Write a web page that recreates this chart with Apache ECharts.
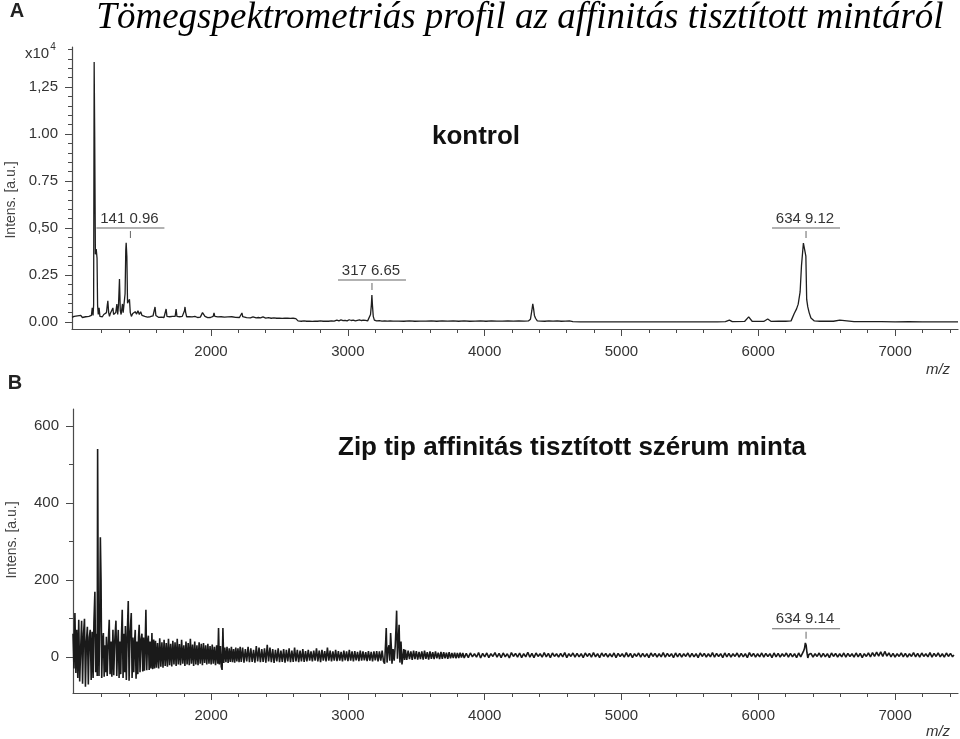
<!DOCTYPE html>
<html><head><meta charset="utf-8">
<script src="https://cdn.jsdelivr.net/npm/echarts@6/dist/echarts.min.js"></script>
<style>html,body{margin:0;padding:0;background:#fff}#c{width:960px;height:739px}</style>
</head><body><div id="c"></div>
<script>
// ---------- data ----------
// Panel A: control spectrum, [m/z, intensity a.u.]
const spectrumA = [
[984,250],[1000,300],[1012,220],[1024,330],[1036,260],[1048,350],[1060,240],[1072,300],[1084,280],[1096,360],[1108,300],[1118,400],[1126,350],[1132,750],[1138,350],[1142,900],[1146,13830],[1150,9800],[1155,3600],[1161,3880],[1167,3400],[1171,900],[1176,400],[1182,750],[1188,300],[1196,350],[1206,280],[1216,400],[1226,300],[1236,500],[1242,900],[1246,1130],[1252,500],[1258,300],[1264,450],[1270,380],[1276,520],[1283,750],[1288,400],[1296,300],[1304,500],[1312,960],[1318,400],[1324,900],[1331,2290],[1337,600],[1343,400],[1348,700],[1353,960],[1358,500],[1366,600],[1372,1500],[1377,3800],[1380,4220],[1385,3500],[1390,1000],[1398,900],[1404,1210],[1410,500],[1418,300],[1428,450],[1436,380],[1446,550],[1456,420],[1466,600],[1476,400],[1486,550],[1496,350],[1506,420],[1516,300],[1526,280],[1536,260],[1546,300],[1556,280],[1566,250],[1576,320],[1584,400],[1591,800],[1597,350],[1606,280],[1616,250],[1626,300],[1636,260],[1646,280],[1656,240],[1666,300],[1672,690],[1678,300],[1688,250],[1698,280],[1708,240],[1718,300],[1728,260],[1738,300],[1745,690],[1751,300],[1760,260],[1770,280],[1780,240],[1790,300],[1800,320],[1806,600],[1810,800],[1815,500],[1822,280],[1832,250],[1842,280],[1852,240],[1862,270],[1872,250],[1882,300],[1892,260],[1902,240],[1912,280],[1922,260],[1932,350],[1938,500],[1942,585],[1948,450],[1956,300],[1966,250],[1976,230],[1986,260],[1996,240],[2006,280],[2016,300],[2022,480],[2028,300],[2038,250],[2050,270],[2062,240],[2074,280],[2086,300],[2098,260],[2110,250],[2124,270],[2138,240],[2152,280],[2166,300],[2180,250],[2194,260],[2208,240],[2220,300],[2226,480],[2232,280],[2246,240],[2260,230],[2274,260],[2288,220],[2300,240],[2307,270],[2314,230],[2330,220],[2346,240],[2362,220],[2374,230],[2380,270],[2386,220],[2400,210],[2420,230],[2440,200],[2460,220],[2480,200],[2500,210],[2520,190],[2540,210],[2560,200],[2580,190],[2600,200],[2620,180],[2636,60],[2660,40],[2680,60],[2700,40],[2720,50],[2740,30],[2760,50],[2780,40],[2800,60],[2820,40],[2840,50],[2860,40],[2880,60],[2900,50],[2920,100],[2935,60],[2950,110],[2965,70],[2980,90],[2995,60],[3010,120],[3025,80],[3040,100],[3055,60],[3070,90],[3085,110],[3100,80],[3115,100],[3130,90],[3145,60],[3158,120],[3166,400],[3172,900],[3176,1440],[3180,900],[3186,300],[3194,100],[3210,60],[3230,70],[3250,50],[3270,60],[3290,50],[3310,60],[3330,45],[3370,50],[3410,40],[3450,55],[3490,40],[3530,50],[3570,45],[3610,60],[3650,40],[3690,55],[3730,45],[3770,60],[3810,40],[3850,55],[3890,40],[3930,50],[3970,55],[4010,40],[4050,60],[4090,45],[4130,50],[4170,60],[4210,45],[4250,55],[4290,50],[4320,60],[4335,150],[4345,600],[4352,960],[4358,700],[4364,350],[4372,200],[4385,60],[4410,50],[4440,40],[4470,60],[4500,45],[4530,55],[4560,40],[4590,50],[4620,55],[4645,20],[4700,10],[4800,5],[4900,10],[5000,5],[5100,10],[5200,5],[5300,10],[5400,5],[5500,8],[5600,5],[5700,10],[5760,20],[5789,100],[5810,20],[5900,30],[5930,270],[5955,40],[6040,30],[6069,160],[6095,30],[6150,40],[6200,40],[6240,60],[6263,450],[6280,700],[6292,950],[6306,1600],[6316,3000],[6330,4200],[6340,4250],[6348,3500],[6354,1200],[6362,800],[6372,500],[6385,210],[6410,60],[6450,40],[6500,50],[6550,40],[6596,100],[6610,40],[6700,20],[6800,15],[6900,15],[7000,10],[7100,15],[7200,10],[7300,10],[7400,10],[7460,10]
];
// Panel B: Zip tip purified serum spectrum, [m/z, intensity a.u.]
const spectrumB = [
[990,60],[997,-30],[1004,114],[1011,-42],[1018,70],[1025,-55],[1032,96],[1039,-64],[1046,20],[1053,94],[1060,-70],[1067,60],[1074,99],[1081,-78],[1088,40],[1095,78],[1102,-72],[1109,50],[1116,70],[1123,-60],[1130,65],[1137,-55],[1143,90],[1150,169],[1156,-40],[1163,60],[1167,-50],[1170,540],[1175,90],[1180,-50],[1185,80],[1190,311],[1195,200],[1200,-55],[1206,40],[1212,62],[1218,-52],[1224,30],[1230,-40],[1234,52],[1240,-50],[1247,30],[1255,96],[1261,-45],[1268,40],[1274,-52],[1282,70],[1288,-48],[1295,40],[1304,94],[1310,-50],[1316,30],[1321,70],[1327,-55],[1333,40],[1339,-45],[1344,50],[1350,122],[1356,-55],[1362,60],[1368,-40],[1373,80],[1380,-60],[1386,50],[1394,145],[1400,-62],[1407,60],[1416,114],[1422,-55],[1428,50],[1434,-40],[1440,40],[1445,70],[1451,-57],[1458,40],[1464,-45],[1469,50],[1474,83],[1480,-40],[1487,45],[1494,60],[1500,-38],[1506,50],[1512,-36],[1518,40],[1523,122],[1529,-35],[1535,40],[1541,55],[1547,-34],[1553,40],[1560,-30],[1567,62],[1573,-32],[1580,45],[1586,-30],[1593,42],
[1600,-28],[1608,36],[1616,-30],[1624,48],[1632,-26],[1640,38],[1648,-28],[1656,44],[1664,-24],[1672,36],[1680,-26],[1688,47],[1696,-22],[1704,34],[1712,-25],[1720,42],[1728,-20],[1736,38],[1744,-24],[1752,47],[1760,-20],[1768,33],[1776,-22],[1784,44],[1792,-18],[1800,30],[1808,-24],[1816,40],[1824,-20],[1832,36],[1840,-22],[1848,47],[1856,-18],[1864,32],[1872,-24],[1880,40],[1888,-20],[1896,30],[1904,-22],[1912,38],[1920,-18],[1928,34],[1936,-22],[1944,36],[1952,-16],[1960,30],[1968,-20],[1976,34],[1984,-18],[1992,28],[2000,-20],[2008,32],[2016,-18],[2024,26],[2032,-22],[2040,30],[2048,-18],[2054,75],[2060,-20],[2068,28],[2074,-25],[2080,-34],[2086,75],[2092,-16],[2100,24],[2108,-14],[2116,26],[2124,-16],[2132,22],[2140,-13],[2148,26],[2156,-14],[2164,20],[2172,-15],[2180,24],[2188,-12],[2196,22],[2204,-14],[2212,26],[2220,-13],
[2230,24],[2240,-15],[2250,20],[2260,-12],[2270,26],[2280,-14],[2290,22],[2300,-13],[2310,18],[2320,-15],[2330,28],[2340,-12],[2350,24],[2360,-14],[2370,20],[2380,-13],[2390,22],[2400,-15],[2410,31],[2420,-12],[2430,24],[2440,-14],[2450,20],[2460,-16],[2470,18],[2480,-12],[2490,22],[2500,-14],[2510,16],[2520,-13],[2530,20],[2540,-15],[2550,18],[2560,-12],[2570,22],[2580,-14],[2590,16],[2600,-13],[2610,24],[2620,-12],[2630,18],[2640,-14],[2650,16],[2660,-12],[2670,20],[2680,-13],[2690,15],[2700,-12],[2710,18],[2720,-10],[2730,14],[2740,-12],[2750,16],[2760,-10],[2770,22],[2780,-12],[2790,16],[2800,-14],[2810,18],[2820,-10],[2830,15],[2840,-12],[2850,24],[2860,-10],[2870,16],[2880,-12],[2890,14],[2900,-10],[2910,18],[2920,-11],[2930,15],[2940,-10],[2950,13],[2960,-12],[2970,16],[2980,-9],[2990,14],[3000,-11],[3010,18],[3020,-10],[3030,14],[3040,-12],[3050,15],[3060,-9],[3070,13],[3080,-11],[3090,16],[3100,-10],[3110,14],[3120,-9],[3130,12],[3140,-11],[3150,15],[3160,-10],[3170,13],[3180,-12],[3190,14],[3200,-9],[3210,15],[3220,-12],[3230,14],[3240,-10],[3250,16],[3260,-12],[3268,-18],
[3276,40],[3280,75],[3286,-15],[3293,20],[3300,30],[3306,-10],[3312,62],[3318,20],[3322,-18],[3330,20],[3338,-10],[3346,30],[3352,80],[3356,120],[3362,-5],[3368,40],[3374,83],[3380,-15],[3388,40],[3395,-20],[3402,-22],[3408,20],[3414,-8],
[3420,18],[3430,-8],[3440,16],[3450,-6],[3460,14],[3470,-8],[3480,16],[3490,-6],[3500,15],[3510,-7],[3520,13],[3530,-6],[3540,14],[3550,-7],[3560,16],[3570,-5],[3580,12],[3590,-7],[3600,14],[3610,-5],[3620,12],[3630,-6],[3640,14],[3650,-4],[3660,11],[3670,-6],[3680,13],[3690,-5],[3700,12],[3710,-4],[3720,11],[3730,-5],[3740,12],[3750,-4],[3760,10],[3770,-3],[3780,11],[3790,-4],[3800,10],[3810,-3],[3820,11],[3830,-2],[3840,10],[3850,-3],
[3865,9],[3880,-2],[3895,10],[3910,0],[3925,8],[3940,-1],[3955,11],[3970,-3],[3985,9],[4000,0],[4015,10],[4030,-2],[4045,8],[4060,1],[4075,11],[4090,-1],[4105,9],[4120,-2],[4135,10],[4150,0],[4165,8],[4180,-3],[4195,11],[4210,1],[4225,9],[4240,-1],[4255,10],[4270,-2],[4285,8],[4300,0],[4315,12],[4330,-1],[4345,9],[4360,-2],[4375,10],[4390,1],[4405,8],[4420,-1],[4435,11],[4450,0],[4465,9],[4480,-2],[4495,10],[4510,1],[4525,8],[4540,-1],[4555,9],[4570,0],[4585,11],[4600,-2],[4615,8],[4630,1],[4645,10],[4660,-1],[4675,9],[4690,0],[4705,8],[4720,-2],[4735,10],[4750,1],[4765,9],[4780,-1],[4795,11],[4810,0],[4825,8],[4840,-2],[4855,10],[4870,1],[4885,9],[4900,-1],[4915,8],[4930,0],[4945,10],[4960,-2],[4975,9],[4990,1],[5005,8],[5020,-1],[5035,11],[5050,0],[5065,9],[5080,-2],[5095,8],[5110,1],[5125,10],[5140,-1],[5155,9],[5170,0],[5185,8],[5200,-2],[5215,10],[5230,1],[5245,9],[5260,-1],[5275,8],[5290,0],[5305,11],[5320,-1],[5335,9],[5350,1],[5365,8],[5380,-2],[5395,10],[5410,0],[5425,9],[5440,-1],[5455,8],[5470,1],[5485,10],[5500,-1],[5515,9],[5530,0],[5545,8],[5560,-2],[5575,10],[5590,1],[5605,9],[5620,-1],[5635,8],[5650,0],[5665,11],[5680,-1],[5695,9],[5710,1],[5725,8],[5740,-2],[5755,10],[5770,0],[5785,9],[5800,-1],[5815,8],[5830,1],[5845,10],[5860,-1],[5875,9],[5890,0],[5905,8],[5920,-2],[5935,11],[5950,1],[5965,9],[5980,-1],[5995,8],[6010,0],[6025,10],[6040,-1],[6055,9],[6070,1],[6085,8],[6100,-2],[6115,10],[6130,0],[6145,9],[6160,-1],[6175,8],[6190,1],[6205,10],[6220,-1],[6235,9],[6250,0],[6265,8],[6280,-2],[6295,10],[6310,0],
[6322,4],[6330,14],[6338,22],[6344,36],[6350,30],[6356,10],[6362,-3],[6370,6],
[6385,9],[6400,-1],[6415,8],[6430,1],[6445,10],[6460,-1],[6475,9],[6490,0],[6505,8],[6520,-2],[6535,10],[6550,1],[6565,9],[6580,-1],[6595,8],[6610,0],[6625,10],[6640,-1],[6655,9],[6670,1],[6685,8],[6700,-1],[6715,10],[6730,0],[6745,9],[6760,-2],[6775,8],[6790,1],[6805,10],[6820,0],[6835,11],[6850,1],[6865,12],[6880,2],[6895,13],[6910,1],[6925,14],[6940,2],[6955,10],[6970,0],[6985,9],[7000,-1],[7015,8],[7030,1],[7045,10],[7060,0],[7075,9],[7090,-1],[7105,8],[7120,1],[7135,11],[7150,0],[7165,9],[7180,-1],[7195,10],[7210,1],[7225,8],[7240,0],[7255,11],[7270,-1],[7285,9],[7300,1],[7315,10],[7330,0],[7345,8],[7360,-1],[7375,10],[7390,1],[7405,9],[7420,0],[7430,5]
];
// peak annotations: [m/z, bar level, label]
const peakLabelsA = [[1410.96, 5000, '141 0.96'], [3176.65, 2234, '317 6.65'], [6349.12, 5000, '634 9.12']];
const peakLabelsB = [[6349.14, 73, '634 9.14']];
// axis ticks and labels
const xMajorTicks = [2000, 3000, 4000, 5000, 6000, 7000];
const xMinorTicks = [1200,1400,1600,1800,2200,2400,2600,2800,3200,3400,3600,3800,4200,4400,4600,4800,5200,5400,5600,5800,6200,6400,6600,6800,7200,7400];
const yMajorTicksA = [0, 2500, 5000, 7500, 10000, 12500];
const yTickLabelsA = ['0.00', '0.25', '0,50', '0.75', '1.00', '1,25'];
const yMinorTicksA = [500,1000,1500,2000,3000,3500,4000,4500,5500,6000,6500,7000,8000,8500,9000,9500,10500,11000,11500,12000,13000,13500,14000,14500];
const yMajorTicksB = [0, 200, 400, 600];
const yMinorTicksB = [100, 300, 500];

// ---------- chart ----------
const FONT = '"Liberation Sans", Arial, sans-serif';
const AX = '#4a4a4a';
const chart = echarts.init(document.getElementById('c'), null, {renderer: 'canvas'});

function xAxes(gridIndex, min, max) {
  return [
    {type: 'value', gridIndex, min, max, position: 'bottom',
     axisLine: {show: true, onZero: false, lineStyle: {color: AX, width: 1.2}},
     axisTick: {show: true, customValues: xMajorTicks, length: 7, lineStyle: {color: AX}},
     axisLabel: {show: true, customValues: xMajorTicks, margin: 15, color: '#333', fontSize: 15, fontFamily: FONT, formatter: v => String(v)},
     splitLine: {show: false}},
    {type: 'value', gridIndex, min, max, position: 'bottom',
     axisLine: {show: false, onZero: false},
     axisTick: {show: true, customValues: xMinorTicks, length: 4, lineStyle: {color: AX}},
     axisLabel: {show: false}, splitLine: {show: false}}
  ];
}
function yAxes(gridIndex, min, max, majors, minors, fmt) {
  return [
    {type: 'value', gridIndex, min, max, position: 'left',
     axisLine: {show: true, onZero: false, lineStyle: {color: AX, width: 1.2}},
     axisTick: {show: true, customValues: majors, length: 7, lineStyle: {color: AX}},
     axisLabel: {show: true, customValues: majors, margin: 14, color: '#333', fontSize: 15, fontFamily: FONT, formatter: fmt},
     splitLine: {show: false}},
    {type: 'value', gridIndex, min, max, position: 'left',
     axisLine: {show: false, onZero: false},
     axisTick: {show: true, customValues: minors, length: 4, lineStyle: {color: AX}},
     axisLabel: {show: false}, splitLine: {show: false}}
  ];
}

function peakLabelSeries(list, xi, yi) {
  return {
    type: 'custom', xAxisIndex: xi, yAxisIndex: yi, clip: false, silent: true,
    data: list.map(d => [d[0], d[1]]),
    renderItem: (params, api) => {
      const d = list[params.dataIndex];
      const p = api.coord([d[0], d[1]]);
      return {type: 'group', children: [
        {type: 'line', shape: {x1: p[0] - 34, y1: p[1], x2: p[0] + 34, y2: p[1]}, style: {stroke: '#666', lineWidth: 1.2}},
        {type: 'line', shape: {x1: p[0], y1: p[1] + 3, x2: p[0], y2: p[1] + 10}, style: {stroke: '#666', lineWidth: 1}},
        {type: 'text', x: p[0] - 1, y: p[1] - 2, style: {text: d[2], align: 'center', verticalAlign: 'bottom', font: '15px ' + FONT, fill: '#333'}}
      ]};
    }
  };
}

const option = {
  animation: false,
  backgroundColor: '#fff',
  grid: [
    {left: 72, top: 47, width: 886, height: 282},
    {left: 73, top: 409, width: 885, height: 284}
  ],
  xAxis: [...xAxes(0, 984, 7460), ...xAxes(1, 990, 7460)],
  yAxis: [
    ...yAxes(0, -372, 14628, yMajorTicksA, yMinorTicksA, v => yTickLabelsA[yMajorTicksA.indexOf(v)] || ''),
    ...yAxes(1, -94, 644, yMajorTicksB, yMinorTicksB, v => String(v))
  ],
  series: [
    {type: 'line', xAxisIndex: 0, yAxisIndex: 0, data: spectrumA, showSymbol: false, sampling: null,
     lineStyle: {color: '#1e1e1e', width: 1.3}, silent: true},
    {type: 'line', xAxisIndex: 2, yAxisIndex: 2, data: spectrumB, showSymbol: false, sampling: null,
     lineStyle: {color: '#1a1a1a', width: 1.6}, silent: true},
    peakLabelSeries(peakLabelsA, 0, 0),
    peakLabelSeries(peakLabelsB, 2, 2)
  ],
  graphic: [
    {type: 'text', x: 17, y: 11, style: {text: 'A', font: 'bold 20px ' + FONT, fill: '#222', align: 'center', verticalAlign: 'middle'}},
    {type: 'text', x: 15, y: 383, style: {text: 'B', font: 'bold 20px ' + FONT, fill: '#222', align: 'center', verticalAlign: 'middle'}},
    {type: 'text', x: 520, y: 18, style: {text: 'Tömegspektrometriás profil az affinitás tisztított mintáról', font: 'italic 37px "Liberation Serif", serif', fill: '#000', align: 'center', verticalAlign: 'middle'}},
    {type: 'text', x: 25, y: 52, style: {text: '{a|x10}{b|4}', verticalAlign: 'middle', rich: {a: {font: '15px ' + FONT, fill: '#333', verticalAlign: 'bottom'}, b: {font: '10px ' + FONT, fill: '#333', verticalAlign: 'top', padding: [0, 0, 9, 1]}}}},
    {type: 'text', x: 11, y: 200, rotation: Math.PI / 2, style: {text: 'Intens. [a.u.]', font: '14px ' + FONT, fill: '#444', align: 'center', verticalAlign: 'middle'}},
    {type: 'text', x: 12, y: 540, rotation: Math.PI / 2, style: {text: 'Intens. [a.u.]', font: '14px ' + FONT, fill: '#444', align: 'center', verticalAlign: 'middle'}},
    {type: 'text', x: 938, y: 370, style: {text: 'm/z', font: 'italic 15px ' + FONT, fill: '#333', align: 'center', verticalAlign: 'middle'}},
    {type: 'text', x: 938, y: 732, style: {text: 'm/z', font: 'italic 15px ' + FONT, fill: '#333', align: 'center', verticalAlign: 'middle'}},
    {type: 'text', x: 476, y: 137, style: {text: 'kontrol', font: 'bold 26px ' + FONT, fill: '#111', align: 'center', verticalAlign: 'middle'}},
    {type: 'text', x: 572, y: 448, style: {text: 'Zip tip affinitás tisztított szérum minta', font: 'bold 26px ' + FONT, fill: '#111', align: 'center', verticalAlign: 'middle'}}
  ]
};
chart.setOption(option);
</script>
</body></html>
